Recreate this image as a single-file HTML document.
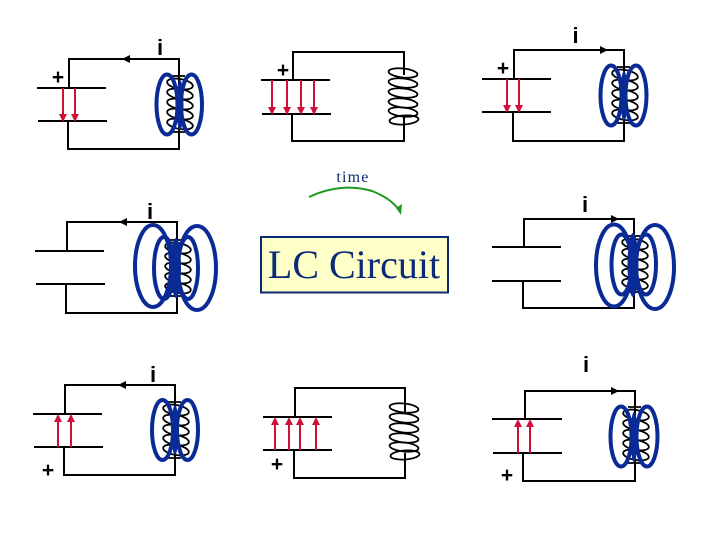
<!DOCTYPE html>
<html>
<head>
<meta charset="utf-8">
<style>
html,body{margin:0;padding:0;background:#fff;width:720px;height:540px;overflow:hidden}
svg{display:block}
.w{fill:none;stroke:#000;stroke-width:2}
.c{fill:none;stroke:#000;stroke-width:1.8}
.b{fill:none;stroke:#0a2a96;stroke-width:4}
.f{fill:#0a2a96}
.r{stroke:#d01038;stroke-width:2;fill:none}
.h{fill:#d01038}
.k{fill:#000}
.i{font:bold 22px "Liberation Sans",sans-serif;text-anchor:middle;fill:#000}
.p{font:bold 21px "Liberation Sans",sans-serif;text-anchor:middle;fill:#000}
</style>
</head>
<body>
<svg width="720" height="540" viewBox="0 0 720 540" xmlns="http://www.w3.org/2000/svg">
<defs>
<g id="coil5">
<path class="c" d="M-7 0H6M-7 56H6"/>
<ellipse class="c" cx="1" cy="8" rx="13" ry="5" transform="rotate(10 1 8)"/>
<ellipse class="c" cx="1" cy="18" rx="13" ry="5" transform="rotate(10 1 18)"/>
<ellipse class="c" cx="1" cy="28" rx="13" ry="5" transform="rotate(10 1 28)"/>
<ellipse class="c" cx="1" cy="38" rx="13" ry="5" transform="rotate(10 1 38)"/>
<ellipse class="c" cx="1" cy="48" rx="13" ry="5" transform="rotate(10 1 48)"/>
</g>
<g id="coil6">
<ellipse class="c" cx="-1" cy="5" rx="14.500" ry="4.500" transform="rotate(6 -1 5)"/>
<ellipse class="c" cx="-1" cy="15" rx="14.500" ry="4.500" transform="rotate(6 -1 15)"/>
<ellipse class="c" cx="-1" cy="25" rx="14.500" ry="4.500" transform="rotate(6 -1 25)"/>
<ellipse class="c" cx="-1" cy="35" rx="14.500" ry="4.500" transform="rotate(6 -1 35)"/>
<ellipse class="c" cx="-1" cy="44" rx="14.500" ry="4.500" transform="rotate(6 -1 44)"/>
<ellipse class="c" cx="0" cy="52" rx="14.500" ry="4.500" transform="rotate(-4 0 52)"/>
</g>
</defs>

<!-- Panel 1 -->
<path class="w" d="M69 88V59H179V149H68V121"/>
<path class="w" d="M37 88H106M38 121H107"/>
<path class="r" d="M63 88V115M75 88V115"/>
<path class="h" d="M59 114H67L63 122ZM71 114H79L75 122Z"/>
<path class="k" d="M122 59L130 55V63Z"/>
<use href="#coil5" x="179" y="76"/>
<ellipse class="b" cx="167" cy="104.500" rx="10.500" ry="30"/>
<ellipse class="b" cx="191.500" cy="104.500" rx="10.500" ry="30"/>
<ellipse class="f" cx="180" cy="105" rx="3.500" ry="25"/>
<text class="i" x="160" y="55">i</text>
<text class="p" x="58" y="84">+</text>

<!-- Panel 2 -->
<path class="w" d="M404 75V52H293V80M292 114V141H404V115"/>
<path class="w" d="M261 80H330M262 114H331"/>
<path class="r" d="M272 80V108M287 80V108M301 80V108M314 80V108"/>
<path class="h" d="M268 107H276L272 115ZM283 107H291L287 115ZM297 107H305L301 115ZM310 107H318L314 115Z"/>
<use href="#coil6" x="404" y="68"/>
<text class="p" x="283" y="77">+</text>

<!-- Panel 3 -->
<path class="w" d="M514 79V50H624V141H513V112"/>
<path class="w" d="M482 79H551M482 112H551"/>
<path class="r" d="M507 79V106M519 79V106"/>
<path class="h" d="M503 105H511L507 113ZM515 105H523L519 113Z"/>
<path class="k" d="M608 50L600 46V54Z"/>
<use href="#coil5" x="624" y="67"/>
<ellipse class="b" cx="611" cy="95.500" rx="10.500" ry="30"/>
<ellipse class="b" cx="636" cy="95.500" rx="10.500" ry="30"/>
<ellipse class="f" cx="624" cy="96" rx="3.500" ry="25"/>
<text class="i" x="575.500" y="43">i</text>
<text class="p" x="503" y="75">+</text>

<!-- Panel 4 -->
<path class="w" d="M67 251V222H177V313H66V284"/>
<path class="w" d="M35 251H104M36 284H105"/>
<path class="k" d="M119 222L127 218V226Z"/>
<use href="#coil5" x="177" y="240"/>
<ellipse class="b" cx="153" cy="266" rx="18" ry="41"/>
<ellipse class="b" cx="164" cy="268" rx="10" ry="31"/>
<ellipse class="b" cx="188" cy="268" rx="10" ry="31"/>
<ellipse class="b" cx="197" cy="268" rx="19" ry="42"/>
<ellipse class="f" cx="176" cy="268" rx="5" ry="30"/>
<text class="i" x="150" y="219">i</text>

<!-- Center -->
<text x="353" y="182" text-anchor="middle" style="font:16px 'Liberation Serif',serif;letter-spacing:1.2px;fill:#0c2a6e">time</text>
<path d="M309 197C330 187 352 185 372 191C385 196 394 203 399 210" fill="none" stroke="#1a9a20" stroke-width="2"/>
<path d="M396 208L402 204L401 215Z" fill="#1a9a20"/>
<rect x="261" y="237" width="187" height="55.500" fill="#ffffc8" stroke="#0c2a78" stroke-width="2"/>
<text x="354" y="278" text-anchor="middle" style="font:40px 'Liberation Serif',serif;fill:#0c2a78">LC Circuit</text>

<!-- Panel 6 -->
<path class="w" d="M524 247V219H634V308H523V281"/>
<path class="w" d="M492 247H561M492 281H561"/>
<path class="k" d="M619 219L611 215V223Z"/>
<use href="#coil5" x="634" y="236"/>
<ellipse class="b" cx="614" cy="265.500" rx="18" ry="41"/>
<ellipse class="b" cx="621.500" cy="264.500" rx="10" ry="30"/>
<ellipse class="b" cx="646" cy="264.500" rx="10" ry="30"/>
<ellipse class="b" cx="655" cy="267" rx="19" ry="42"/>
<ellipse class="f" cx="633" cy="265" rx="5.500" ry="32"/>
<text class="i" x="585" y="212">i</text>

<!-- Panel 7 -->
<path class="w" d="M65 414V385H175V475H64V447"/>
<path class="w" d="M33 414H102M34 447H103"/>
<path class="r" d="M58 447V421M71 447V421"/>
<path class="h" d="M54 422H62L58 414ZM67 422H75L71 414Z"/>
<path class="k" d="M118 385L126 381V389Z"/>
<use href="#coil5" x="175" y="402"/>
<ellipse class="b" cx="162.500" cy="430" rx="10.500" ry="30"/>
<ellipse class="b" cx="187.500" cy="430" rx="10.500" ry="30"/>
<ellipse class="f" cx="175" cy="430" rx="3.500" ry="25"/>
<text class="i" x="153" y="382">i</text>
<text class="p" x="48" y="477">+</text>

<!-- Panel 8 -->
<path class="w" d="M405 412V388H295V417M294 450V478H405V453"/>
<path class="w" d="M263 417H332M263 450H332"/>
<path class="r" d="M275 450V424M289 450V424M300 450V424M316 450V424"/>
<path class="h" d="M271 425H279L275 417ZM285 425H293L289 417ZM296 425H304L300 417ZM312 425H320L316 417Z"/>
<use href="#coil6" x="405" y="403"/>
<text class="p" x="277" y="471">+</text>

<!-- Panel 9 -->
<path class="w" d="M525 419V391H635V481H523V453"/>
<path class="w" d="M492 419H562M493 453H562"/>
<path class="r" d="M518 453V426M530 453V426"/>
<path class="h" d="M514 427H522L518 419ZM526 427H534L530 419Z"/>
<path class="k" d="M619 391L611 387V395Z"/>
<use href="#coil5" x="635" y="407"/>
<ellipse class="b" cx="621" cy="436.500" rx="10.500" ry="30"/>
<ellipse class="b" cx="647" cy="436.500" rx="10.500" ry="30"/>
<ellipse class="f" cx="634" cy="437" rx="3.500" ry="25"/>
<text class="i" x="586" y="372">i</text>
<text class="p" x="507" y="482">+</text>
</svg>
</body>
</html>
